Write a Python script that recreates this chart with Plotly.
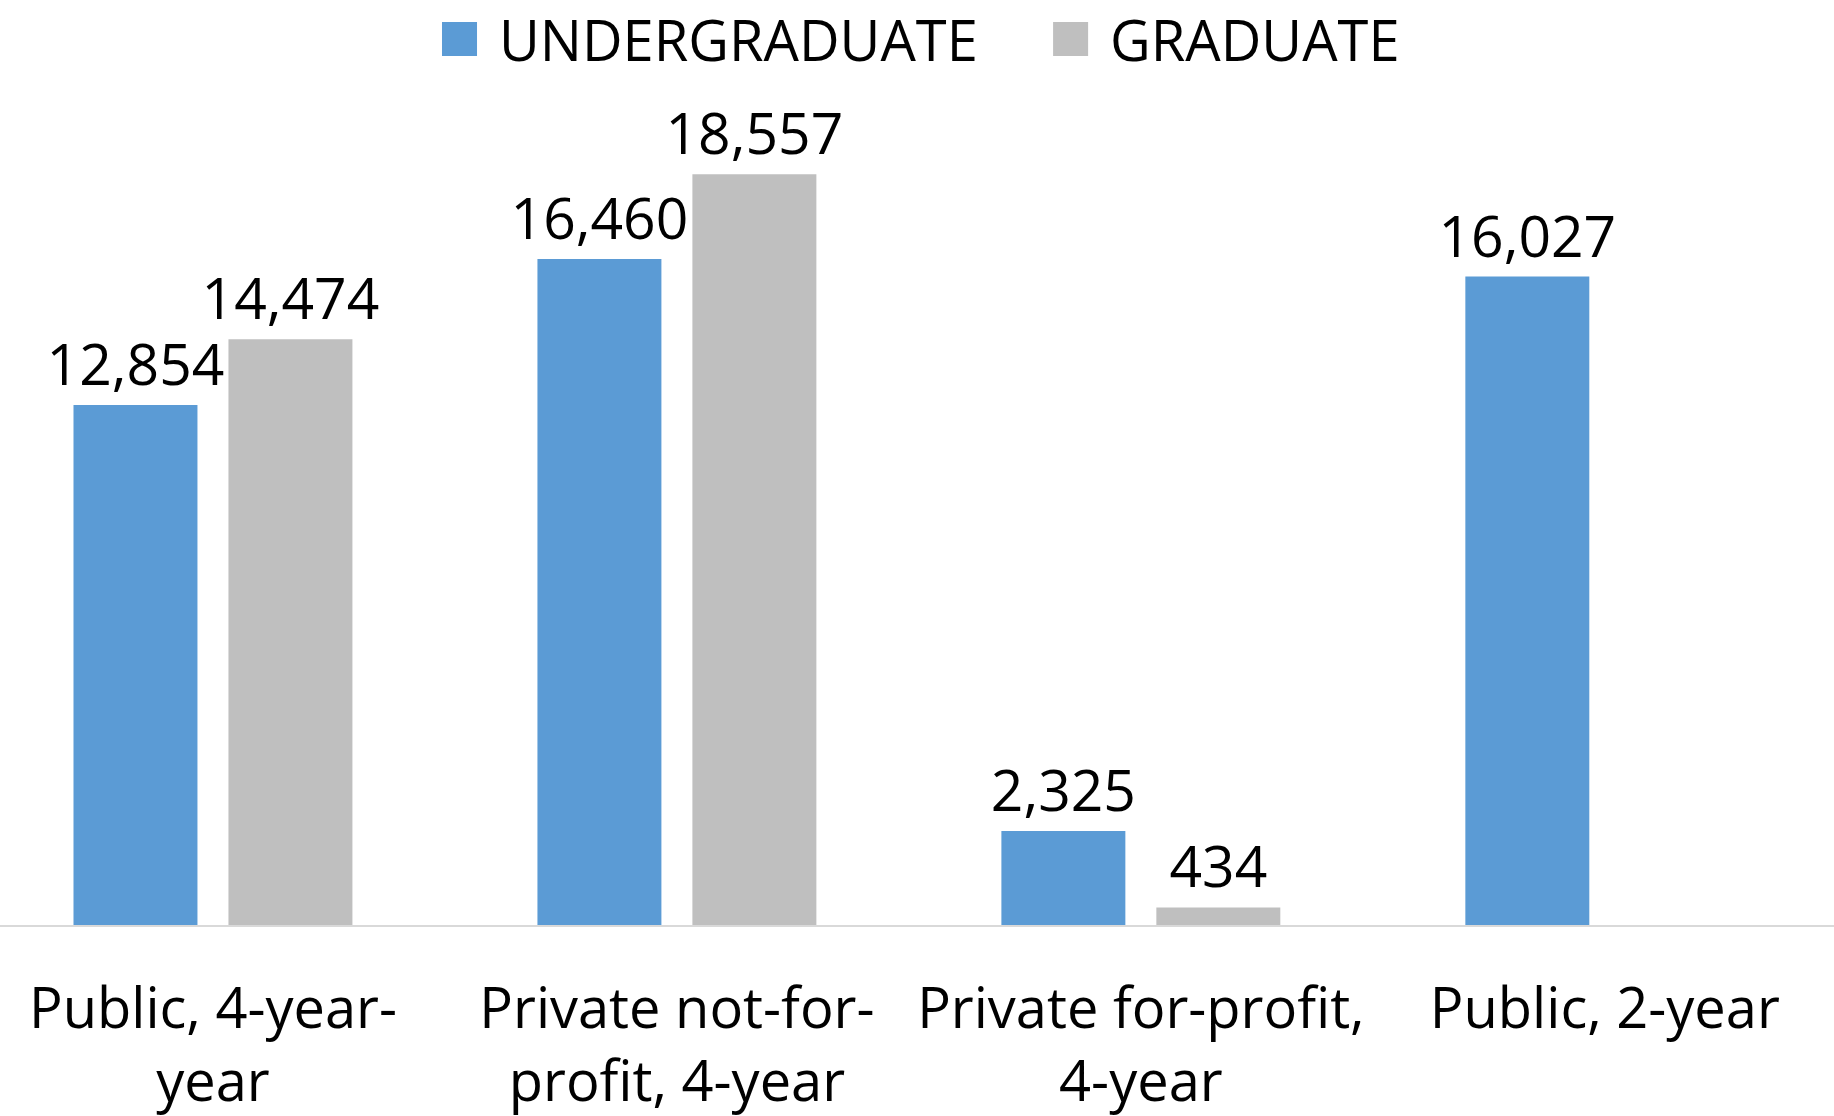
import plotly.graph_objects as go

categories = [
    "Public, 4-year-<br>year",
    "Private not-for-<br>profit, 4-year",
    "Private for-profit,<br>4-year",
    "Public, 2-year",
]
series_names = ["UNDERGRADUATE", "GRADUATE"]
undergraduate = [12854, 16460, 2325, 16027]
graduate = [14474, 18557, 434, None]
colors = ["#5B9BD5", "#BFBFBF"]

FONT = "Open Sans"
fig = go.Figure()
for name, vals, col in zip(series_names, [undergraduate, graduate], colors):
    fig.add_trace(go.Bar(
        x=categories, y=vals, name=name,
        marker=dict(color=col, line=dict(width=16, color="rgba(0,0,0,0)")),
        text=[None if v is None else f"{v:,}" for v in vals],
        textposition="outside",
        constraintext="none",
        cliponaxis=False,
        textfont=dict(family=FONT, size=57, color="#000000"),
        showlegend=False,
    ))

# manual legend (large swatches)
legend_items = [(series_names[0], colors[0], 0.2410, 0.2710),
                (series_names[1], colors[1], 0.5742, 0.6042)]
for name, col, x0, xt in legend_items:
    fig.add_shape(type="rect", xref="paper", yref="paper",
                  x0=x0, x1=x0 + 0.0191, y0=1.0 + (100 - 56) / 825, y1=1.0 + (100 - 22) / 825,
                  fillcolor=col, line=dict(width=0))
    fig.add_annotation(x=xt, y=1.0 + (100 - 39) / 825, xref="paper", yref="paper",
                       text=name, showarrow=False, xanchor="left", yanchor="middle",
                       font=dict(family=FONT, size=56, color="#000000"))

fig.update_layout(
    width=1834, height=1116,
    margin=dict(l=0, r=0, t=100, b=191),
    barmode="group", bargap=0.332, bargroupgap=0.2,
    plot_bgcolor="white", paper_bgcolor="white",
    font=dict(family=FONT, color="#000000"),
    xaxis=dict(range=[-0.459, 3.494], showline=True, linecolor="#D9D9D9", linewidth=2,
               ticks="", showgrid=False, tickfont=dict(family=FONT, size=56, color="#000000"),
               ticklabelstandoff=34, fixedrange=True),
    yaxis=dict(range=[0, 20390], visible=False, showgrid=False, zeroline=False),
)

fig.write_html("out.html", config={"displayModeBar": False},
               post_script="document.body.style.margin='0';")
